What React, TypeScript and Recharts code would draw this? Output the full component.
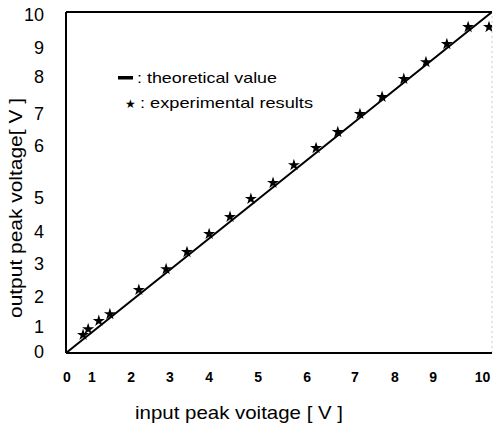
import React from "react";
import { ComposedChart, ReferenceLine, Scatter, Symbols, XAxis, YAxis } from "recharts";

// measured input / output peak voltages [V]
const inputVoltage = [
  0.4, 0.52, 0.77, 1.03, 1.71, 2.35, 2.84, 3.36, 3.85, 4.34, 4.86, 5.35, 5.87, 6.38, 6.9, 7.42,
  7.93, 8.45, 8.94, 9.44, 9.93,
];
const outputVoltage = [
  0.53, 0.7, 0.94, 1.14, 1.85, 2.46, 2.96, 3.49, 3.99, 4.52, 4.99, 5.51, 6.01, 6.48, 7.01, 7.51,
  8.04, 8.53, 9.06, 9.56, 9.56,
];

// theoretical line (output = input)
const theoryInput = [0, 10];
const theoryOutput = [0, 10];

// tick labels and where the scan puts them
const xTickLabels = ["0", "1", "2", "3", "4", "5", "6", "7", "8", "9", "10"];
const xTickPositions = [0.02, 0.61, 1.53, 2.44, 3.36, 4.51, 5.66, 6.78, 7.72, 8.62, 9.78];
const yTickLabels = ["0", "1", "2", "3", "4", "5", "6", "7", "8", "9", "10"];
const yTickPositions = [0.03, 0.76, 1.64, 2.61, 3.55, 4.55, 6.07, 7.01, 8.09, 8.94, 9.91];

const legendLabels = [": theoretical value", ": experimental results"];

const experimental = inputVoltage.map((x, i) => ({ x, y: outputVoltage[i] }));
const theory = theoryInput.map((x, i) => ({ x, y: theoryOutput[i] }));

const font = "'Liberation Sans', Arial, sans-serif";

function XTick({ x, y, payload }: any) {
  const i = xTickPositions.indexOf(payload.value);
  return (
    <text x={x} y={y + 21} textAnchor="middle" fontSize={14} fontWeight={700} fontFamily={font} fill="#000">
      {xTickLabels[i]}
    </text>
  );
}

function YTick({ x, y, payload }: any) {
  const i = yTickPositions.indexOf(payload.value);
  return (
    <text x={x - 14} y={y} textAnchor="end" dominantBaseline="central" fontSize={18} fontFamily={font} fill="#000">
      {yTickLabels[i]}
    </text>
  );
}

function Star({ cx, cy }: any) {
  return <Symbols type="star" size={45} cx={cx} cy={cy} fill="#000" />;
}

export default function App() {
  return (
    <div style={{ position: "absolute", left: 0, top: 0, width: 493, height: 425, background: "#fff" }}>
      <ComposedChart width={493} height={425} margin={{ top: 12, right: 1, bottom: 71, left: 65 }}>
        <XAxis
          type="number"
          dataKey="x"
          domain={[0, 10]}
          ticks={xTickPositions}
          interval={0}
          tick={<XTick />}
          tickLine={false}
          height={1}
          allowDataOverflow
          axisLine={{ stroke: "#000", strokeWidth: 2 }}
        />
        <YAxis
          type="number"
          dataKey="y"
          domain={[0, 10]}
          ticks={yTickPositions}
          interval={0}
          tick={<YTick />}
          tickLine={false}
          width={1}
          allowDataOverflow
          axisLine={{ stroke: "#000", strokeWidth: 2 }}
        />
        <ReferenceLine y={10} stroke="#000" strokeWidth={2} />
        <ReferenceLine x={10} stroke="#ccc" strokeWidth={1} strokeDasharray="2 3" />
        <Scatter
          data={theory}
          line={{ stroke: "#000", strokeWidth: 2 }}
          shape={() => null}
          isAnimationActive={false}
        />
        <Scatter data={experimental} shape={<Star />} fill="#000" isAnimationActive={false} />
        <g fontFamily={font} fontSize={15} fill="#000">
          <rect x={118} y={76} width={15} height={3.5} fill="#000" />
          <text x={137} y={83} textLength={140} lengthAdjust="spacingAndGlyphs">
            {legendLabels[0]}
          </text>
          <text x={125} y={108} fontSize={12}>★</text>
          <text x={140} y={108} textLength={173} lengthAdjust="spacingAndGlyphs">
            {legendLabels[1]}
          </text>
        </g>
        <text
          x={239}
          y={419}
          textAnchor="middle"
          fontSize={19}
          fontFamily={font}
          fill="#000"
          textLength={208}
          lengthAdjust="spacingAndGlyphs"
        >
          input peak voitage [ V ]
        </text>
        <text
          x={22}
          y={208}
          textAnchor="middle"
          fontSize={19}
          fontFamily={font}
          fill="#000"
          textLength={220}
          lengthAdjust="spacingAndGlyphs"
          transform="rotate(-90 22 208)"
        >
          output peak voltage[ V ]
        </text>
      </ComposedChart>
    </div>
  );
}
